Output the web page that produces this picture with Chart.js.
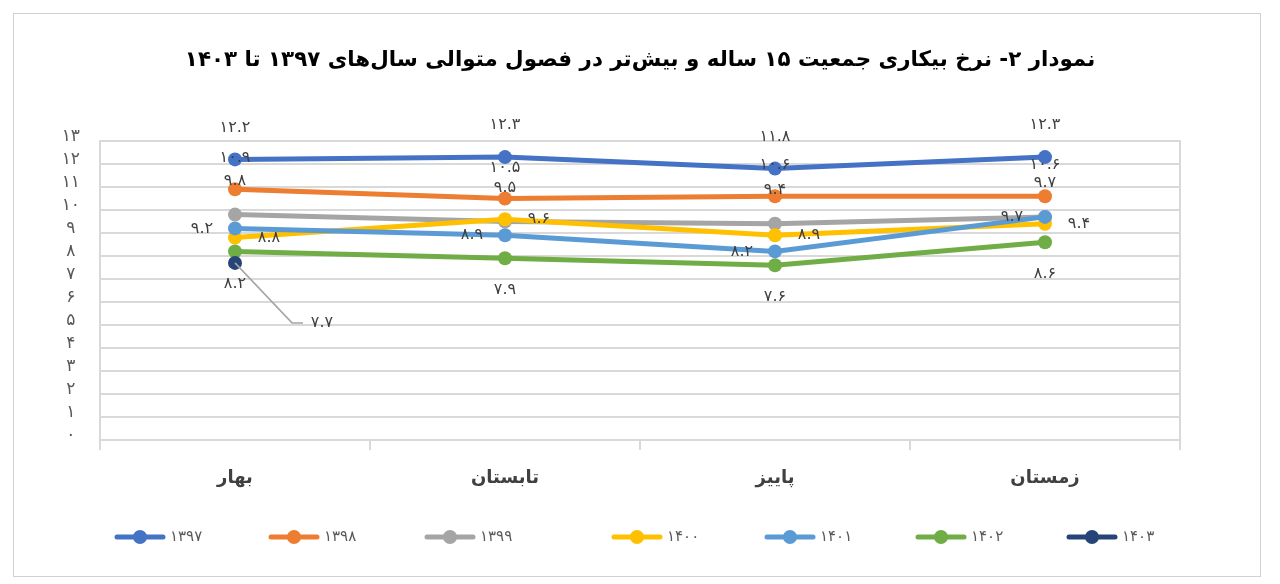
<!DOCTYPE html>
<html>
<head>
<meta charset="utf-8">
<script src="https://cdn.jsdelivr.net/npm/chart.js@4.4.1/dist/chart.umd.min.js"></script>
<style>
  html, body { margin: 0; padding: 0; background: #ffffff; }
  #wrap { position: relative; width: 1280px; height: 584px; }
</style>
</head>
<body>
<div id="wrap"><canvas id="c" width="1280" height="584"></canvas></div>
<script>
// ---- data ----
const categories = ['بهار', 'تابستان', 'پاییز', 'زمستان'];
const seriesNames = ['۱۳۹۷', '۱۳۹۸', '۱۳۹۹', '۱۴۰۰', '۱۴۰۱', '۱۴۰۲', '۱۴۰۳'];
const s1397 = [12.2, 12.3, 11.8, 12.3];
const s1398 = [10.9, 10.5, 10.6, 10.6];
const s1399 = [9.8, 9.5, 9.4, 9.7];
const s1400 = [8.8, 9.6, 8.9, 9.4];
const s1401 = [9.2, 8.9, 8.2, 9.7];
const s1402 = [8.2, 7.9, 7.6, 8.6];
const s1403 = [7.7, null, null, null];
const yTickLabels = ['۰','۱','۲','۳','۴','۵','۶','۷','۸','۹','۱۰','۱۱','۱۲','۱۳'];
const titleText = 'نمودار ۲- نرخ بیکاری جمعیت ۱۵ ساله و بیش‌تر در فصول متوالی سال‌های ۱۳۹۷ تا ۱۴۰۳';

// ---- styles ----
const seriesValues = [s1397, s1398, s1399, s1400, s1401, s1402, s1403];
const colors = ['#4472C4', '#ED7D31', '#A5A5A5', '#FFC000', '#5B9BD5', '#70AD47', '#264478'];
const labelOffsets = [
  {dx: 0, dy: -32}, {dx: 0, dy: -31}, {dx: 0, dy: -34},
  {dx: 34, dy: 0}, {dx: -33, dy: 0}, {dx: 0, dy: 32},
  {dx: 87, dy: 60, leader: true}
];
const legendX = [115, 269, 425, 612, 765, 916, 1067];
const FONT = "'DejaVu Sans', sans-serif";

function fa(v) {
  return String(v).replace(/\d/g, d => '۰۱۲۳۴۵۶۷۸۹'[d]);
}

const frame = {
  id: 'frame',
  beforeDraw(chart) {
    const ctx = chart.ctx;
    ctx.save();
    ctx.fillStyle = '#ffffff';
    ctx.fillRect(0, 0, chart.width, chart.height);
    ctx.strokeStyle = '#d0d0d0';
    ctx.lineWidth = 1;
    ctx.strokeRect(13.5, 13.5, 1247, 563);
    ctx.restore();
  }
};

const dataLabels = {
  id: 'dataLabels',
  afterDatasetsDraw(chart) {
    const ctx = chart.ctx;
    ctx.save();
    ctx.font = '16px ' + FONT;
    ctx.fillStyle = '#404040';
    ctx.textAlign = 'center';
    ctx.textBaseline = 'middle';
    chart.data.datasets.forEach((ds, i) => {
      const meta = chart.getDatasetMeta(i);
      const off = labelOffsets[i];
      meta.data.forEach((pt, j) => {
        const v = ds.data[j];
        if (v === null || v === undefined) return;
        const lx = pt.x + off.dx, ly = pt.y + off.dy;
        if (off.leader) {
          ctx.save();
          ctx.strokeStyle = '#a5a5a5';
          ctx.lineWidth = 1.5;
          ctx.beginPath();
          ctx.moveTo(pt.x, pt.y);
          ctx.lineTo(lx - 30, ly);
          ctx.lineTo(lx - 19, ly);
          ctx.stroke();
          ctx.restore();
        }
        ctx.fillText(fa(v), lx, ly);
      });
    });
    ctx.restore();
  }
};

const customLegend = {
  id: 'customLegend',
  afterDraw(chart) {
    const ctx = chart.ctx;
    const y = 537;
    ctx.save();
    chart.data.datasets.forEach((ds, i) => {
      const x0 = legendX[i];
      ctx.strokeStyle = ds.borderColor;
      ctx.lineWidth = 5;
      ctx.lineCap = 'round';
      ctx.beginPath();
      ctx.moveTo(x0 + 2, y);
      ctx.lineTo(x0 + 48, y);
      ctx.stroke();
      ctx.fillStyle = ds.borderColor;
      ctx.beginPath();
      ctx.arc(x0 + 25, y, 7, 0, Math.PI * 2);
      ctx.fill();
      ctx.fillStyle = '#595959';
      ctx.font = '15px ' + FONT;
      ctx.textAlign = 'left';
      ctx.textBaseline = 'middle';
      ctx.fillText(ds.label, x0 + 55, y);
    });
    ctx.restore();
  }
};

const datasets = seriesValues.map((vals, i) => ({
  label: seriesNames[i],
  data: vals,
  borderColor: colors[i],
  backgroundColor: colors[i],
  borderWidth: 5,
  pointRadius: 7,
  pointBorderWidth: 0,
  pointBackgroundColor: colors[i],
  tension: 0,
  order: 10 - i,
  clip: false
}));

new Chart(document.getElementById('c'), {
  type: 'line',
  data: { labels: categories, datasets },
  options: {
    responsive: false,
    animation: false,
    devicePixelRatio: 1,
    events: [],
    layout: { padding: { left: 40, right: 40, top: 0, bottom: 84 } },
    plugins: {
      legend: { display: false },
      tooltip: { enabled: false },
      title: {
        display: true,
        text: titleText,
        color: '#000000',
        font: { family: FONT, size: 21.4, weight: 'bold' },
        padding: { top: 47.2, bottom: 68.1 }
      }
    },
    scales: {
      x: {
        type: 'category',
        offset: true,
        afterFit(scale) { scale.height = 60; },
        grid: {
          offset: true,
          drawOnChartArea: false,
          drawTicks: true,
          tickLength: 10,
          color: '#d9d9d9',
          lineWidth: 2
        },
        border: { display: true, color: '#d9d9d9', width: 2 },
        ticks: {
          padding: 18,
          color: '#404040',
          font: { family: FONT, size: 18, weight: 'bold' }
        }
      },
      y: {
        min: 0,
        max: 13,
        afterFit(scale) { scale.width = 60; },
        grid: { color: '#d9d9d9', lineWidth: 2, drawTicks: false },
        border: { display: true, color: '#d9d9d9', width: 2 },
        ticks: {
          stepSize: 1,
          autoSkip: false,
          padding: 20,
          crossAlign: 'center',
          labelOffset: -4,
          color: '#595959',
          font: { family: FONT, size: 17 },
          callback: (v) => yTickLabels[v]
        }
      },
      y2: {
        position: 'right',
        min: 0,
        max: 13,
        afterFit(scale) { scale.width = 60; },
        grid: { display: false, drawOnChartArea: false, drawTicks: false },
        border: { display: true, color: '#d9d9d9', width: 2 },
        ticks: { display: false }
      }
    }
  },
  plugins: [frame, dataLabels, customLegend]
});
</script>
</body>
</html>
